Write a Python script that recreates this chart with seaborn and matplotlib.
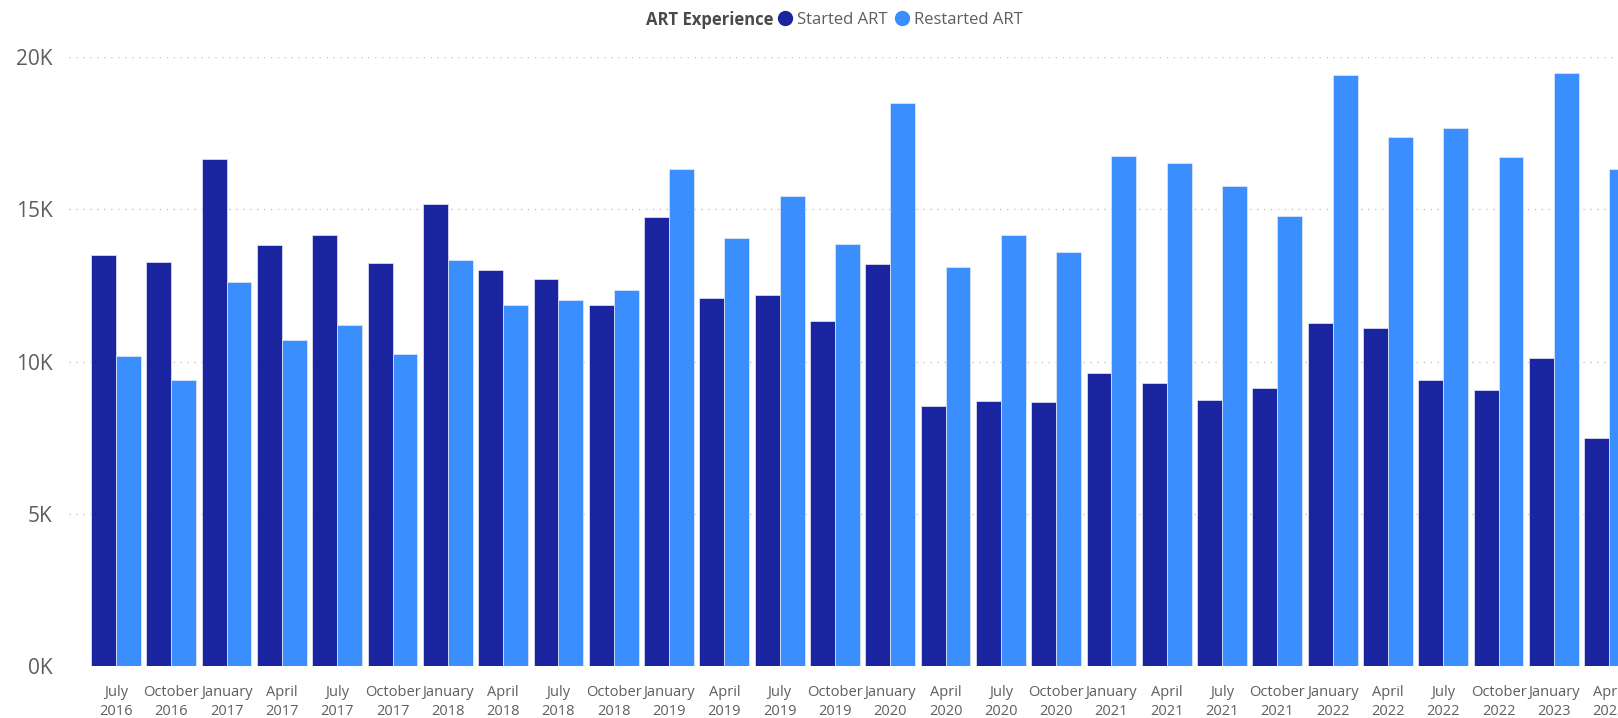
import matplotlib
matplotlib.use("Agg")
import matplotlib.pyplot as plt
from matplotlib.lines import Line2D
from matplotlib.ticker import FuncFormatter
import seaborn as sns
import pandas as pd

# ─── Data ────────────────────────────────────────────────────────────────────
quarters = [
    "July\n2016", "October\n2016", "January\n2017", "April\n2017",
    "July\n2017", "October\n2017", "January\n2018", "April\n2018",
    "July\n2018", "October\n2018", "January\n2019", "April\n2019",
    "July\n2019", "October\n2019", "January\n2020", "April\n2020",
    "July\n2020", "October\n2020", "January\n2021", "April\n2021",
    "July\n2021", "October\n2021", "January\n2022", "April\n2022",
    "July\n2022", "October\n2022", "January\n2023", "April\n2023",
]
started_art = [
    13510, 13270, 16640, 13820, 14150, 13240, 15180, 13000,
    12710, 11840, 14760, 12090, 12200, 11340, 13200, 8550,
    8700, 8680, 9630, 9300, 8750, 9120, 11260, 11090,
    9390, 9070, 10130, 7490,
]
restarted_art = [
    10170, 9390, 12600, 10720, 11210, 10260, 13340, 11840,
    12030, 12360, 16320, 14060, 15450, 13860, 18500, 13110,
    14140, 13610, 16750, 16510, 15750, 14780, 19410, 17380,
    17670, 16720, 19490, 16330,
]
series_names = ["Started ART", "Restarted ART"]
y_ticks = [0, 5000, 10000, 15000, 20000]

COLORS = {"Started ART": "#1B249F", "Restarted ART": "#3A8EFE"}
TEXT_GRAY = "#605E5C"

df = pd.DataFrame({
    "Quarter": quarters * 2,
    "Count": started_art + restarted_art,
    "Series": [series_names[0]] * len(quarters) + [series_names[1]] * len(quarters),
})

# ─── Style ───────────────────────────────────────────────────────────────────
sns.set_theme(style="white")
plt.rcParams["font.family"] = ["Open Sans", "DejaVu Sans"]

fig = plt.figure(figsize=(16.18, 7.18), dpi=100)
ax = fig.add_axes([69 / 1618, 1 - 666 / 718, 1 - 69 / 1618, (666 - 57) / 718])

sns.barplot(data=df, x="Quarter", y="Count", hue="Series",
            palette=COLORS, saturation=1, width=0.9, gap=0, ax=ax,
            edgecolor="#E6E8F8", linewidth=0.5, legend=False)

ax.set_xlim(-0.85, 27.16)
ax.set_ylim(0, 20000)
ax.set_yticks(y_ticks)
ax.yaxis.set_major_formatter(FuncFormatter(lambda v, _: f"{int(v / 1000)}K"))
ax.set_xlabel("")
ax.set_ylabel("")
for s in ax.spines.values():
    s.set_visible(False)
ax.grid(axis="y", color="#C8C6C4", linestyle=(0, (1, 4)), linewidth=1)
ax.set_axisbelow(True)
ax.tick_params(axis="y", labelsize=15, labelcolor=TEXT_GRAY, length=0, pad=12)
ax.tick_params(axis="x", labelsize=10.5, labelcolor=TEXT_GRAY, length=0, pad=13.5)
for lbl in ax.get_xticklabels():
    lbl.set_linespacing(1.35)

# ─── Legend at the top ───────────────────────────────────────────────────────
fig.text(774 / 1618, 1 - 20 / 718, "ART Experience", ha="right", va="center",
         fontsize=12, fontweight="bold", color="#4B4A48")
handles = [Line2D([0], [0], marker="o", linestyle="", markersize=10,
                  markerfacecolor=COLORS[n], markeredgecolor=COLORS[n])
           for n in series_names]
fig.legend(handles, series_names, loc="center left",
           bbox_to_anchor=(780 / 1618, 1 - 20 / 718), ncol=2, frameon=False,
           borderpad=0, borderaxespad=0, handlelength=0.6, handletextpad=0.4,
           columnspacing=0.6, prop={"size": 12}, labelcolor=TEXT_GRAY)

fig.savefig("out.png", dpi=100, facecolor="white")
